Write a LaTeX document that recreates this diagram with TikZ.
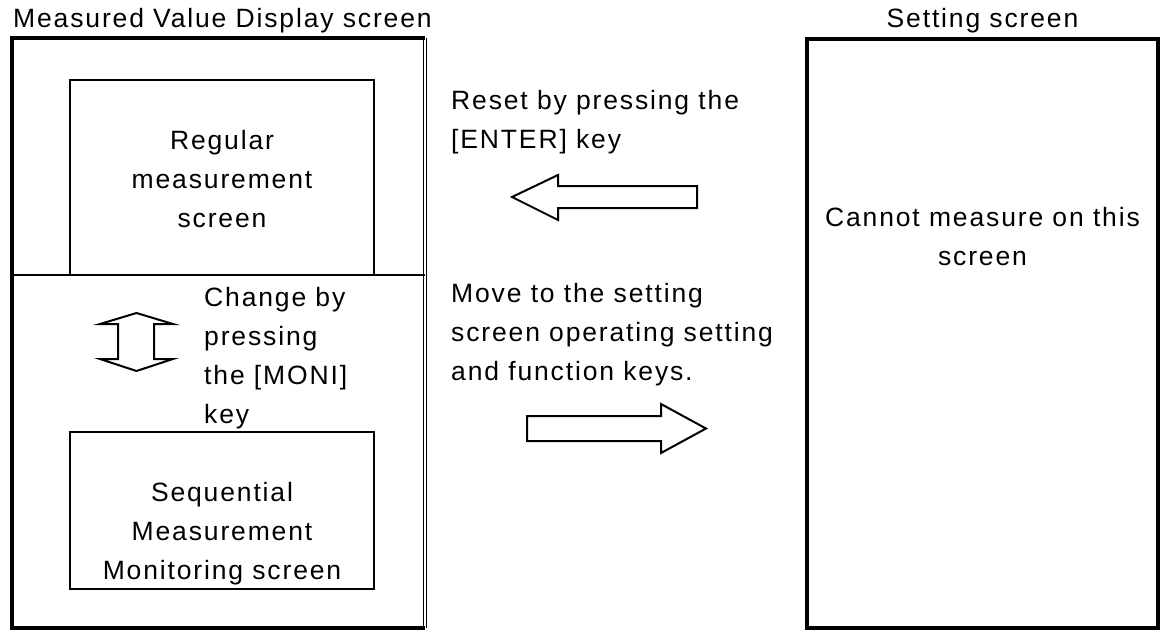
\documentclass[tikz,border=0pt]{standalone}
\usepackage{fontspec}
\setmainfont{Liberation Sans}[LetterSpace=7]
\begin{document}
\begin{tikzpicture}[x=1pt, y=-1pt,
  txt/.style={font=\fontsize{26.5}{39}\selectfont, inner sep=0pt, anchor=base},
  heavy/.style={line width=3.5pt},
  screenbox/.style={draw, line width=2pt, inner sep=0pt},
  blockarrow/.style={draw, line width=2pt, line join=miter, fill=white},
  rule/.style={line width=1pt}]
\useasboundingbox (0,0) rectangle (1160,630);

% outer screens
\node[inner sep=0pt, minimum width=413pt, minimum height=590pt] (display) at (218.5,333) {};
\node[draw, heavy, inner sep=0pt, minimum width=351pt, minimum height=589pt] (setting) at (982.5,333.5) {};

\draw[heavy] (display.north east) -- (display.north west) -- (display.south west) -- (display.south east);
\draw[rule] ([xshift=-1.5pt]display.north east) -- ([xshift=-1.5pt]display.south east);
\draw[rule] ([xshift=1.5pt]display.north east) -- ([xshift=1.5pt]display.south east);

% captions above the screens
\node[txt, anchor=base west] (dispcap) at (13,27) {Measured Value Display screen};
\node[txt] (setcap) at (982.5,27) {Setting screen};

% inner screens of the display
\node[screenbox, minimum width=304pt, minimum height=195pt] (regular) at (222,177.5) {};
\coordinate (split) at (0,275);
\draw[line width=2pt] (display.west |- split) -- (display.east |- split);
\node[screenbox, minimum width=304pt, minimum height=157pt] (sequential) at (222,510.5) {};

% multi-line labels are placed by the baseline of their last line
\node[txt, align=center] (regtext) at (222,227) {Regular\\measurement\\screen};
\node[txt, align=center] (seqtext) at (222,579) {Sequential\\Measurement\\Monitoring screen};

% switching between the two display screens
\coordinate (sw) at (136.5,342);
\draw[blockarrow] ([shift={(-18.5,-18)}]sw) -- ([shift={(-36.5,-18)}]sw) -- ([shift={(0,-29)}]sw)
  -- ([shift={(36.5,-18)}]sw) -- ([shift={(17.5,-18)}]sw) -- ([shift={(17.5,17)}]sw)
  -- ([shift={(36.5,17)}]sw) -- ([shift={(0,29)}]sw) -- ([shift={(-36.5,17)}]sw)
  -- ([shift={(-18.5,17)}]sw) -- cycle;
\node[txt, align=left, anchor=base west] (change) at (204,423) {Change by\\pressing\\the [MONI]\\key};

% transitions between the screens
\node[txt, align=left, anchor=base west] (reset) at (451,148) {Reset by pressing the\\{[ENTER]} key};
\node[txt, align=left, anchor=base west] (move) at (451,380) {Move to the setting\\screen operating setting\\and function keys.};

\coordinate (back) at (512,197);
\draw[blockarrow] (back) -- ++(46,-22) -- ++(0,11) -- ++(139,0) -- ++(0,22) -- ++(-139,0) -- ++(0,12) -- cycle;
\coordinate (fwd) at (706,428.5);
\draw[blockarrow] (fwd) -- ++(-45,-24.5) -- ++(0,12) -- ++(-134,0) -- ++(0,25) -- ++(134,0) -- ++(0,12) -- cycle;

\node[txt, align=center] (cannot) at (982.5,265) {Cannot measure on this\\screen};
\end{tikzpicture}
\end{document}
